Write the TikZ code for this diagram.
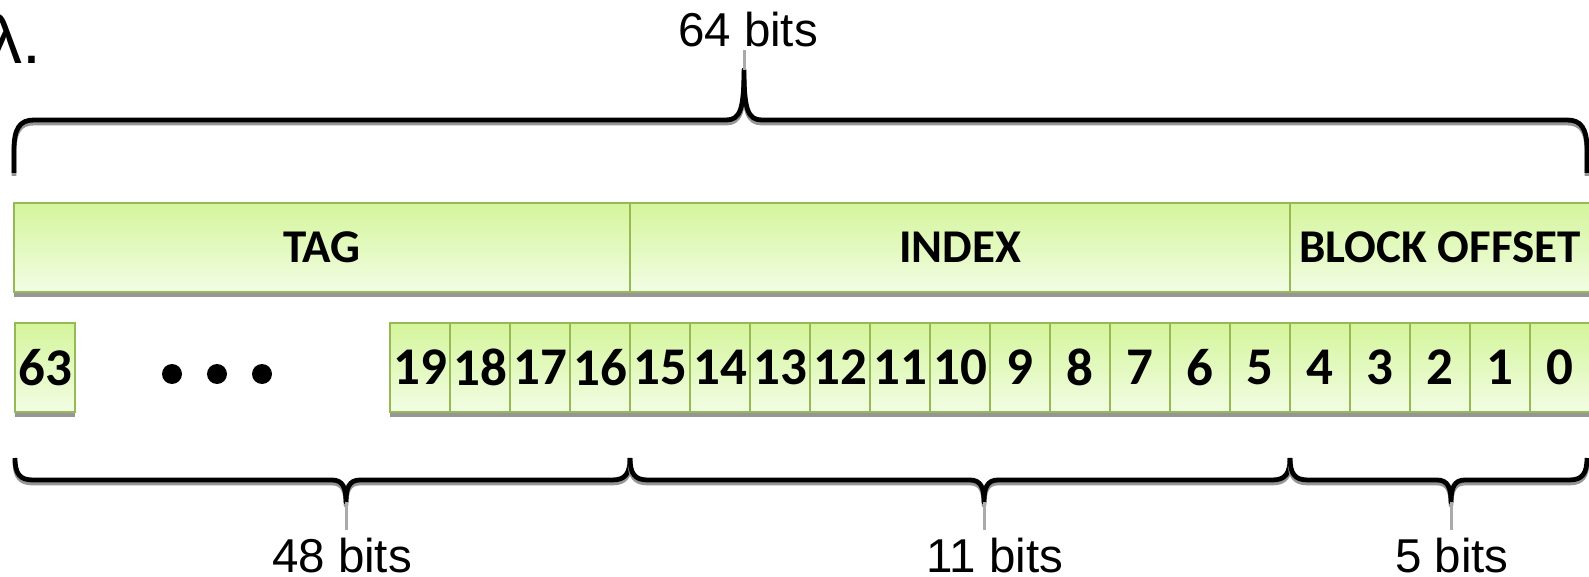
\documentclass[tikz,border=0pt]{standalone}
\usepackage{fontspec}
\setmainfont{Liberation Sans}
\newfontfamily\calibfont{Carlito}
\usetikzlibrary{backgrounds}
\definecolor{boxtop}{RGB}{212,245,155}
\definecolor{boxbot}{RGB}{242,253,228}
\definecolor{boxborder}{RGB}{150,185,85}
\definecolor{shadowgray}{RGB}{150,150,150}
\definecolor{stubgray}{RGB}{170,170,170}
\begin{document}
\begin{tikzpicture}[x=0.5pt,y=-0.5pt,
  field/.style={draw=boxborder, line width=1.4pt, top color=boxtop, bottom color=boxbot,
    minimum height=44.5pt, inner sep=0pt, outer sep=0pt,
    font=\calibfont\bfseries\fontsize{23.5}{28}\selectfont},
  bitbox/.style={field, minimum width=30pt, font=\calibfont\bfseries\fontsize{26.5}{30}\selectfont},
  lbl/.style={font=\fontsize{23.75}{28}\selectfont, inner sep=0pt, anchor=base},
  brace/.style={line width=2.4pt, line join=round},
  braceshadow/.style={line width=2.4pt, shadowgray, line join=round, transform canvas={yshift=-1.5pt}},
  stub/.style={line width=1.5pt, stubgray},
  dot/.style={circle, fill=black, inner sep=0pt, minimum size=10pt}]
\useasboundingbox (0,0) rectangle (1589,577);

% top-left label
\node[font=\fontsize{34}{40}\selectfont, inner sep=0pt, anchor=base east] (lam) at (42,64) {λ.};

% field row
\node[field, minimum width=308pt] (tag) at (322,247.5) {TAG};
\node[field, minimum width=330pt] (index) at (960,247.5) {INDEX};
\node[field, minimum width=150pt] (offset) at (1440,247.5) {BLOCK OFFSET};

% bit row
\node[bitbox] (b63) at (45,367.5) {63};
\foreach \i in {0,...,19} {
  \node[bitbox] (b\i) at ({1560-60*\i},367.5) {\i};
}
\node[dot] (d1) at (172,374) {};
\node[dot] (d2) at (217,374) {};
\node[dot] (d3) at (262,374) {};

% shadows under boxes
\begin{scope}[on background layer]
  \foreach \n in {tag,index,offset,b63} {
    \fill[shadowgray] (\n.south west) rectangle ([yshift=-2.5pt]\n.south east);
  }
  \foreach \i in {0,...,19} {
    \fill[shadowgray] (b\i.south west) rectangle ([yshift=-2.5pt]b\i.south east);
  }
\end{scope}

% top brace
\coordinate (ttip) at (744,70);
\def\topbrace{(14,173) -- (14,150) .. controls (14,128) and (20,120) .. (34,120) -- (726,120)
  .. controls (740,120) and (744,110) .. (ttip)
  .. controls (744,110) and (748,120) .. (762,120) -- (1567,120)
  .. controls (1581,120) and (1587,128) .. (1587,150) -- (1587,173)}
\draw[braceshadow] \topbrace;
\draw[brace] \topbrace;
\draw[stub] (ttip) -- (744,50);
\node[lbl] (l64) at (748,47) {64 bits};

% bottom braces
\newcommand{\bbrace}[4]{% left x, tip x, right x, name
  \coordinate (#4) at (#2,502);
  \def\bpath{(#1,458) .. controls (#1,474) and (#1+5,480) .. (#1+18,480) -- (#2-14,480)
    .. controls (#2-3,480) and (#2,488) .. (#4)
    .. controls (#2,488) and (#2+3,480) .. (#2+14,480) -- (#3-18,480)
    .. controls (#3-5,480) and (#3,474) .. (#3,458)}
  \draw[braceshadow] \bpath;
  \draw[brace] \bpath;
  \draw[stub] (#4) -- (#2,530);
}
\bbrace{15}{346}{630}{tipA}
\bbrace{630}{984}{1290}{tipB}
\bbrace{1290}{1451}{1587}{tipC}
\node[lbl] (l48) at (342,572) {48 bits};
\node[lbl] (l11) at (995,572) {11 bits};
\node[lbl] (l5) at (1452,572) {5 bits};
\end{tikzpicture}
\end{document}
